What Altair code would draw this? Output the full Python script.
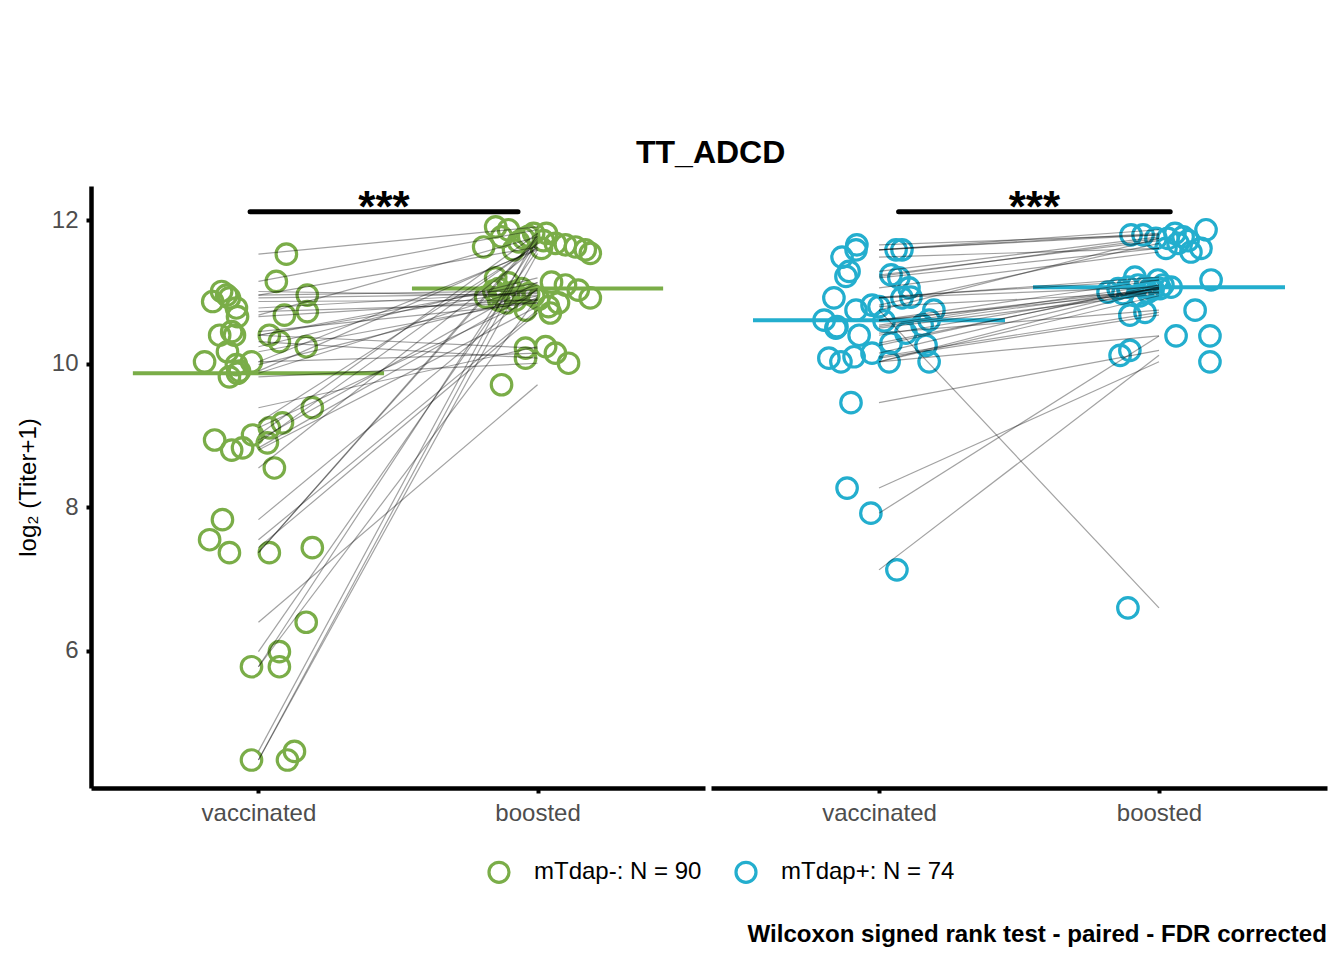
import altair as alt
import pandas as pd

GROUPS = ["mTdap-: N = 90", "mTdap+: N = 74"]
COLORS = ["#7AAD48", "#23AECE"]
TIMES = ["vaccinated", "boosted"]

# mTdap- : paired values (vaccinated -> boosted) and jitter offsets
neg_vacc = [11.53, 11.15, 10.96, 11.01, 10.96, 10.87, 10.78, 10.92, 10.68, 10.73, 10.66, 10.40, 10.40,
            10.40, 10.31, 10.24, 10.17, 10.03, 10.03, 9.99, 9.82, 9.87, 9.39, 9.18, 9.11, 8.94, 9.01,
            8.80, 8.83, 8.90, 8.55, 7.83, 7.55, 7.37, 7.37, 7.44, 6.40, 5.99, 5.78, 5.78, 4.60, 4.48,
            4.48, 10.45, 9.90]
neg_boost = [11.91, 11.87, 11.02, 10.95, 11.63, 10.89, 11.00, 10.98, 11.77, 10.85, 10.90, 10.22, 11.05,
             11.13, 10.08, 11.20, 10.89, 10.15, 11.59, 10.95, 10.01, 11.10, 10.24, 11.66, 10.93, 11.14,
             11.82, 10.80, 11.03, 11.68, 11.63, 11.05, 10.75, 11.78, 11.75, 10.71, 9.71, 11.59, 10.92,
             11.72, 11.82, 11.70, 11.54, 10.85, 11.61]
neg_vacc_jit = [0.100, 0.064, 0.175, -0.132, -0.114, -0.164, -0.079, -0.104, 0.093, 0.175, -0.075,
                -0.139, -0.086, 0.039, 0.075, 0.171, -0.111, -0.193, -0.025, -0.079, -0.104, -0.075,
                0.193, 0.086, 0.039, -0.157, -0.021, -0.096, -0.057, 0.032, 0.057, -0.129, -0.175,
                -0.104, 0.039, 0.193, 0.171, 0.075, 0.075, -0.025, 0.129, 0.104, -0.025, -0.096, -0.068]
neg_boost_jit = [-0.150, -0.104, -0.157, -0.121, -0.193, -0.139, -0.086, -0.032, -0.129, -0.111, 0.004,
                 -0.043, -0.057, -0.104, -0.043, -0.150, -0.079, 0.064, -0.086, -0.014, 0.111, 0.100,
                 0.029, 0.100, -0.186, 0.050, -0.014, 0.039, 0.146, 0.064, 0.136, -0.139, -0.043,
                 -0.032, -0.050, 0.046, -0.129, 0.171, 0.189, 0.021, 0.032, -0.068, 0.189, 0.075, 0.014]

# mTdap+ : paired values (vaccinated -> boosted) and jitter offsets
pos_vacc = [11.66, 11.59, 11.49, 11.29, 11.22, 10.92, 10.61, 10.50, 10.75, 10.82, 10.40, 10.08, 10.03,
            10.10, 10.15, 9.46, 8.27, 7.92, 7.13, 11.59, 11.59, 11.24, 11.20, 11.06, 10.92, 10.93,
            10.75, 10.61, 10.54, 10.43, 10.29, 10.26, 10.03, 10.03, 10.52, 10.80, 10.60]
pos_boost = [11.80, 11.82, 11.61, 11.77, 11.75, 11.07, 11.00, 10.98, 6.60, 11.68, 11.05, 10.68, 10.95,
             10.72, 11.07, 10.19, 10.03, 10.39, 10.12, 11.87, 11.80, 11.72, 11.61, 11.56, 11.21, 11.17,
             11.75, 11.17, 11.10, 10.75, 11.07, 11.10, 10.39, 11.04, 11.05, 11.00, 11.05]
pos_vacc_jit = [-0.079, -0.082, -0.132, -0.107, -0.118, -0.161, -0.196, -0.154, -0.082, -0.025, -0.071,
                -0.179, -0.136, -0.089, -0.025, -0.100, -0.114, -0.029, 0.064, 0.061, 0.082, 0.043,
                0.071, 0.107, 0.082, 0.114, 0.196, 0.179, 0.154, 0.096, 0.043, 0.168, 0.036, 0.179,
                -0.150, 0.000, 0.018]
pos_boost_jit = [-0.100, 0.057, 0.025, 0.086, -0.011, 0.043, -0.182, -0.129, -0.111, 0.068, -0.146,
                 -0.104, -0.068, -0.050, -0.111, -0.104, 0.182, 0.061, -0.139, 0.168, -0.057, 0.104,
                 0.150, 0.114, -0.086, -0.004, 0.032, 0.186, -0.075, 0.129, -0.050, 0.014, 0.182,
                 -0.021, 0.004, -0.039, -0.032]

# significance brackets: start, end, height, label
sig_neg = {"x1": 0.97, "x2": 1.93, "y": 12.12, "label": "***"}
sig_pos = {"x1": 1.07, "x2": 2.04, "y": 12.12, "label": "***"}

FONT = "Liberation Sans"


def long_df(group, vacc, boost, vj, bj):
    rows = []
    for i, (v, b, a, c) in enumerate(zip(vacc, boost, vj, bj)):
        sid = f"{group}-{i}"
        rows.append(dict(group=group, subject=sid, t=1, jit=a, value=v))
        rows.append(dict(group=group, subject=sid, t=2, jit=c, value=b))
    return pd.DataFrame(rows)


xscale = alt.Scale(domain=[0.4, 2.6], nice=False, zero=False)
yscale = alt.Scale(domain=[4.09, 12.48], nice=False, zero=False)
xaxis = alt.Axis(values=[1, 2], title=None,
                 labelExpr="datum.value == 1 ? '%s' : '%s'" % (TIMES[0], TIMES[1]))

legend = alt.Legend(title=None, orient="none", direction="horizontal", legendX=396, legendY=674,
                    symbolType="circle", symbolSize=400, symbolStrokeWidth=3.2, labelFontSize=24,
                    labelFont=FONT, labelColor="black", labelOffset=23, columnPadding=27, padding=0,
                    labelLimit=500)


def panel(df, sig, color, show_y, width):
    yaxis = alt.Axis(values=[6, 8, 10, 12], format="d", title="log₂ (Titer+1)") if show_y else None
    base = alt.Chart(df)
    pts = base.transform_calculate(xp="datum.t + datum.jit").mark_point(
        shape="circle", filled=False, size=420, strokeWidth=3.2, opacity=1
    ).encode(
        x=alt.X("xp:Q", scale=xscale, axis=xaxis),
        y=alt.Y("value:Q", scale=yscale, axis=yaxis),
        color=alt.Color("group:N", scale=alt.Scale(domain=GROUPS, range=COLORS), legend=legend),
    )
    med = base.transform_aggregate(
        med="median(value)", groupby=["t"]
    ).transform_calculate(
        x1="datum.t - 0.45", x2="datum.t + 0.45"
    ).mark_rule(strokeWidth=4, color=color).encode(
        x=alt.X("x1:Q", scale=xscale), x2="x2:Q", y=alt.Y("med:Q", scale=yscale)
    )
    lines = base.mark_line(color="black", opacity=0.37, strokeWidth=1.2).encode(
        x=alt.X("t:Q", scale=xscale), y=alt.Y("value:Q", scale=yscale), detail="subject:N"
    )
    sdf = pd.DataFrame([sig])
    bar = alt.Chart(sdf).mark_rule(color="black", strokeWidth=5, strokeCap="round").encode(
        x=alt.X("x1:Q", scale=xscale), x2="x2:Q", y=alt.Y("y:Q", scale=yscale)
    )
    txt = alt.Chart(sdf).transform_calculate(xm="(datum.x1 + datum.x2) / 2").mark_text(
        fontSize=44, font=FONT, fontWeight="bold", color="black", baseline="alphabetic", dy=10
    ).encode(x=alt.X("xm:Q", scale=xscale), y=alt.Y("y:Q", scale=yscale), text="label:N")
    return alt.layer(pts, med, lines, bar, txt).properties(width=width, height=602)


df_neg = long_df(GROUPS[0], neg_vacc, neg_boost, neg_vacc_jit, neg_boost_jit)
df_pos = long_df(GROUPS[1], pos_vacc, pos_boost, pos_vacc_jit, pos_boost_jit)

inner = alt.hconcat(
    panel(df_neg, sig_neg, COLORS[0], True, 614),
    panel(df_pos, sig_pos, COLORS[1], False, 616),
    spacing=6,
).resolve_scale(color="shared").properties(
    title=alt.TitleParams("TT_ADCD", fontSize=32, font=FONT, fontWeight="bold", color="black",
                          anchor="middle", offset=16, dx=39)
)

chart = alt.vconcat(inner).properties(
    title=alt.TitleParams("Wilcoxon signed rank test - paired - FDR corrected", orient="bottom",
                          anchor="end", fontSize=24.1, font=FONT, fontWeight="bold", color="black",
                          offset=34),
    padding={"left": 8, "top": 129, "right": 2, "bottom": 5},
).configure_view(stroke=None).configure_axis(
    grid=False, domainColor="black", domainWidth=4.5, tickColor="black", tickWidth=4, tickSize=5,
    labelColor="#4D4D4D", labelFontSize=24, labelFont=FONT, labelPadding=8,
    titleFontSize=24, titleFont=FONT, titleColor="black", titleFontWeight="normal", titlePadding=11
)

chart.save("out.html", embed_options={"renderer": "svg", "actions": False})
